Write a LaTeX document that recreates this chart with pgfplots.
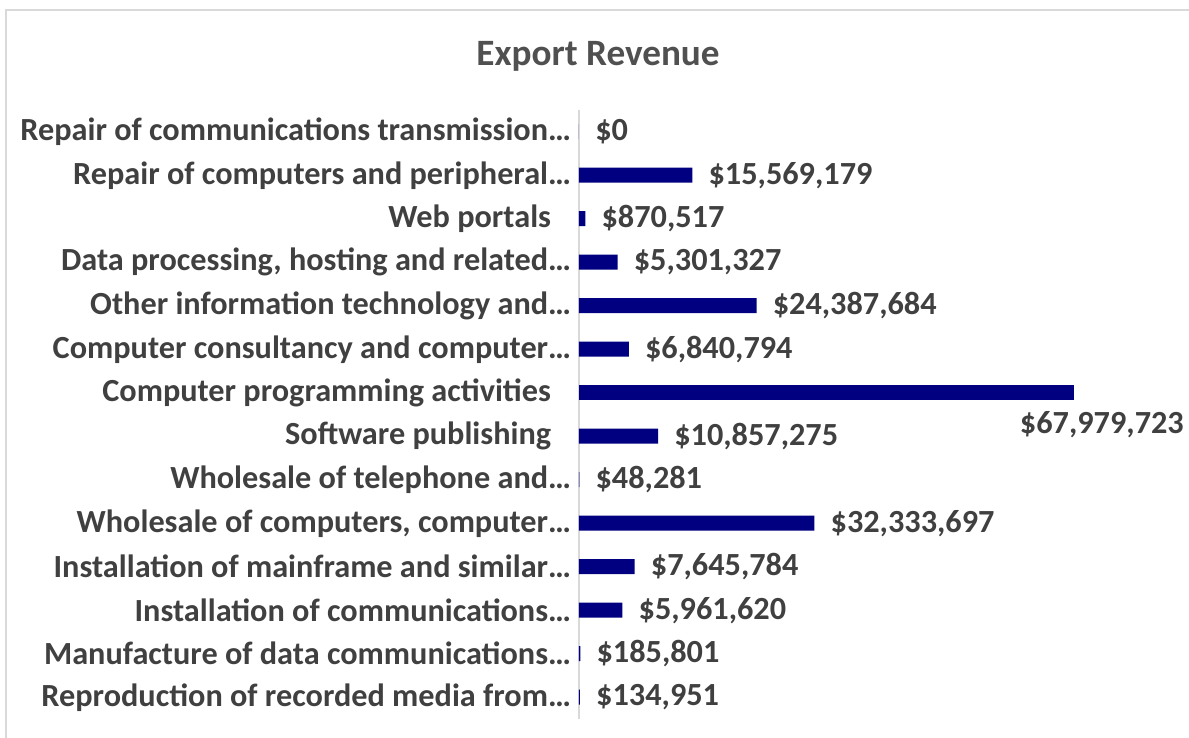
\documentclass[border=0pt]{standalone}
\usepackage{pgfplots}
\pgfplotsset{compat=1.18}
\usepackage{fontspec}
\setmainfont{Carlito}
\definecolor{navybar}{HTML}{000080}
\definecolor{txt}{HTML}{404040}
\definecolor{ttl}{HTML}{505050}
\definecolor{bord}{HTML}{D9D9D9}
\begin{document}
\begin{tikzpicture}
\useasboundingbox (0,0) rectangle (891.75pt,553.5pt);
\draw[bord, line width=1.2pt] (4.5pt,-10pt) -- (4.5pt,546pt) -- (900pt,546pt);
\node[font=\bfseries\fontsize{27.9}{32}\selectfont, text=ttl] at (448.5pt,511.5pt) {Export Revenue};
\begin{axis}[
  at={(434.25pt,14.25pt)}, anchor=south west,
  scale only axis, width=409.5pt, height=456.75pt,
  xmin=0, xmax=75000000, ymin=-0.5, ymax=13.5,
  xbar, bar shift=0pt, bar width=11.25pt,
  axis x line=none,
  axis y line*=left,
  y axis line style={draw=bord, line width=1.2pt},
  ytick={0,...,13}, ytick style={draw=none},
  yticklabels={
    Reproduction of recorded media from…,
    Manufacture of data communications…,
    Installation of communications…,
    Installation of mainframe and similar…,
    {Wholesale of computers, computer…},
    Wholesale of telephone and…,
    Software publishing\rule{15pt}{0pt},
    Computer programming activities\rule{15pt}{0pt},
    Computer consultancy and computer…,
    Other information technology and…,
    {Data processing, hosting and related…},
    Web portals\rule{15pt}{0pt},
    Repair of computers and peripheral…,
    Repair of communications transmission…},
  yticklabel style={font=\bfseries\fontsize{24.2}{28}\selectfont, text=txt, inner sep=0pt, xshift=-1.5pt},
  point meta=explicit symbolic,
  every node near coord/.append style={font=\bfseries\fontsize{24.2}{28}\selectfont, text=txt},
]
\addplot[fill=navybar, draw=none, nodes near coords, nodes near coords align={horizontal},
  every node near coord/.append style={anchor=west, inner sep=0pt, xshift=12pt}]
  coordinates {
  (134951,0) [\$134,951]
  (185801,1) [\$185,801]
  (5961620,2) [\$5,961,620]
  (7645784,3) [\$7,645,784]
  (32333697,4) [\$32,333,697]
  (48281,5) [\$48,281]
  (10857275,6) [\$10,857,275]
  (6840794,8) [\$6,840,794]
  (24387684,9) [\$24,387,684]
  (5301327,10) [\$5,301,327]
  (870517,11) [\$870,517]
  (15569179,12) [\$15,569,179]
  (0,13) [\$0]
  };
\addplot[fill=navybar, draw=none, nodes near coords, nodes near coords align={horizontal},
  every node near coord/.append style={anchor=center, inner sep=0pt, xshift=21pt, yshift=-24pt}]
  coordinates {
  (67979723,7) [\$67,979,723]
  };
\end{axis}
\end{tikzpicture}
\end{document}
